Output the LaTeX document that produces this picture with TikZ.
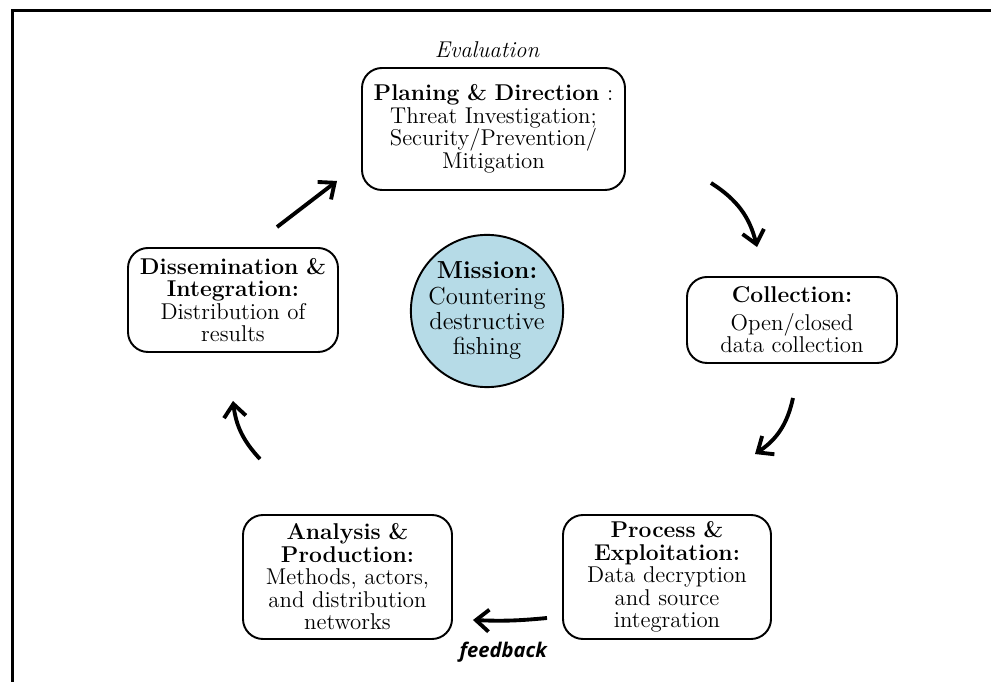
\documentclass[tikz,border=0pt]{standalone}
\usepackage{fontspec}
\newfontfamily\fbfont{Open Sans}
\usepackage{xcolor}
\usetikzlibrary{arrows.meta}
\definecolor{missionblue}{RGB}{182,219,231}

\begin{document}
\begin{tikzpicture}[x=0.2mm,y=0.2mm,
	stage/.style={draw,rounded corners=4mm,line width=1.1pt,align=center,inner sep=1mm,
		font=\fontsize{13}{12.8}\selectfont},
	cyc/.style={line width=2.2pt,-{Straight Barb[length=2.6mm,width=4.4mm]}}]
	\useasboundingbox (0,0) rectangle (991,682);
	\draw[line width=1.7pt] (12.5,0) -- (12.5,671.5) -- (991,671.5);
	\node[font=\fontsize{13}{15}\selectfont\itshape] (eval) at (487,632) {Evaluation};
	\node[stage,text width=50.6mm,minimum height=24.4mm] (plan) at (493.5,553)
		{\textbf{Planing \& Direction} :\\ Threat Investigation;\\ Security/Prevention/\\ Mitigation};
	\node[stage,text width=40mm,minimum height=20.8mm] (dissem) at (233,382)
		{\textbf{Dissemination \&}\\ \textbf{Integration:}\\ Distribution of\\ results};
	\node[circle,draw,fill=missionblue,line width=1.1pt,minimum size=30mm,inner sep=0pt,align=center,
		font=\fontsize{14}{14.4}\selectfont] (mission) at (487,371)
		{\textbf{Mission:}\\ Countering\\ destructive\\ fishing};
	\node[stage,text width=40mm,minimum height=17.2mm] (collect) at (792,362)
		{\textbf{Collection:}\\[1mm] Open/closed\\ data collection};
	\node[stage,text width=39.6mm,minimum height=24.8mm] (process) at (667,105)
		{\textbf{Process \&}\\ \textbf{Exploitation:}\\ Data decryption\\ and source\\ integration};
	\node[stage,text width=39.8mm,minimum height=24.8mm] (analysis) at (347.5,105)
		{\textbf{Analysis \&}\\ \textbf{Production:}\\ Methods, actors,\\ and distribution\\ networks};
	\draw[cyc] ([shift={(44,20)}]dissem.north) -- ([shift={(-24,10)}]plan.south west);
	\draw[cyc] ([shift={(85,8)}]plan.south east) to[bend left=22] ([shift={(-35,29)}]collect.north);
	\draw[cyc] ([shift={(1,-34)}]collect.south) to[bend left=22] ([shift={(88,60)}]process.north);
	\draw[cyc] ([shift={(-15,-41)}]process.west) to[bend left=4]
		node[pos=0.6,below=2.8mm,font=\fbfont\bfseries\itshape\fontsize{11.5}{13}\selectfont] (fb) {feedback}
		([shift={(20,-43)}]analysis.east);
	\draw[cyc] ([shift={(-87.5,55)}]analysis.north) to[bend left=18] ([shift={(0,-48)}]dissem.south);
\end{tikzpicture}
\end{document}
